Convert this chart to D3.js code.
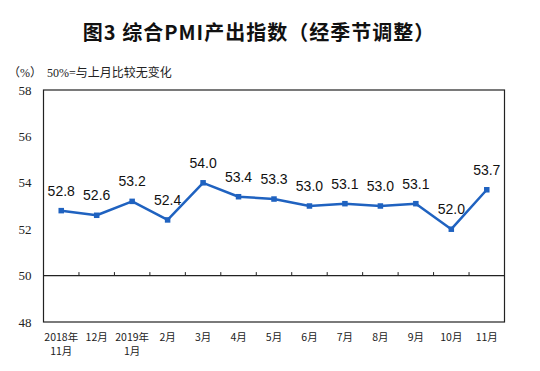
<!DOCTYPE html>
<head>
  <meta charset="utf-8">
  <title>综合PMI产出指数</title>
</head>
<style>
  body {
    margin: 0;
    background: #fff;
    overflow: hidden;
  }
  .title {
    font-family: "Noto Sans CJK SC", sans-serif;
    font-weight: bold;
    font-size: 20px;
    letter-spacing: 1px;
    fill: #111;
  }
  .note {
    font-family: "Liberation Serif", "Noto Sans CJK SC", serif;
    font-size: 12px;
    fill: #222;
  }
  .ylab {
    font-family: "Liberation Serif", serif;
    font-size: 13px;
    fill: #222;
  }
  .xlab {
    font-family: "Noto Sans CJK SC", sans-serif;
    font-size: 10.5px;
    fill: #222;
  }
  .val {
    font-family: "Liberation Sans", Arial, sans-serif;
    font-size: 14px;
    fill: #111;
  }
</style>
<body>
  <svg id="chart" width="540" height="371"></svg>
<script src="https://cdn.jsdelivr.net/npm/d3@7"></script>
<script>
  // data
  var months = ["2018年|11月", "12月", "2019年|1月", "2月", "3月", "4月", "5月",
                "6月", "7月", "8月", "9月", "10月", "11月"];
  var pmi = [52.8, 52.6, 53.2, 52.4, 54.0, 53.4, 53.3, 53.0, 53.1, 53.0, 53.1, 52.0, 53.7];
  var yTicks = [48, 50, 52, 54, 56, 58];

  var svg = d3.select('#chart');
  // plot box (note: "top" is a reserved window prop, so use other names)
  var plotL = 43.5, plotR = 504.5, plotT = 90, plotB = 322;

  var x = d3.scaleBand().domain(d3.range(months.length)).range([plotL, plotR]);
  var y = d3.scaleLinear().domain([48, 58]).range([plotB, plotT]);
  var blue = '#1f62c0';
  var cx = i => x(i) + x.bandwidth() / 2;

  svg.append('text')
    .attr('class', 'title')
    .attr('x', 259).attr('y', 40)
    .attr('text-anchor', 'middle')
    .text('图3 综合PMI产出指数（经季节调整）');

  svg.append('text').attr('class', 'note')
    .attr('x', 8).attr('y', 77).text('（%）');
  svg.append('text').attr('class', 'note')
    .attr('x', 47).attr('y', 77).text('50%=与上月比较无变化');

  // frame
  svg.append('rect')
    .attr('x', plotL).attr('y', plotT)
    .attr('width', plotR - plotL).attr('height', plotB - plotT)
    .attr('fill', 'none').attr('stroke', '#222').attr('stroke-width', 1.2);

  // y labels (no tick marks)
  svg.selectAll('.ylab')
    .data(yTicks)
    .enter().append('text')
      .attr('class', 'ylab')
      .attr('x', 25)
      .attr('y', d => y(d) + 4.5)
      .attr('text-anchor', 'middle')
      .text(d => d);

  // 50 line with category ticks pointing up
  svg.append('line')
    .attr('x1', plotL).attr('x2', plotR)
    .attr('y1', y(50)).attr('y2', y(50))
    .attr('stroke', '#222').attr('stroke-width', 1.2);
  svg.selectAll('.sep')
    .data(d3.range(1, months.length))
    .enter().append('line')
      .attr('x1', d => x(d)).attr('x2', d => x(d))
      .attr('y1', y(50)).attr('y2', y(50) - 3.5)
      .attr('stroke', '#222').attr('stroke-width', 1);

  // x labels
  var xl = svg.selectAll('.xlab')
    .data(months)
    .enter().append('text')
      .attr('class', 'xlab')
      .attr('text-anchor', 'middle')
      .attr('transform', (d, i) => 'translate(' + cx(i) + ',341)');
  xl.selectAll('tspan')
    .data(d => d.split('|'))
    .enter().append('tspan')
      .attr('x', 0)
      .attr('dy', (d, i) => i ? 14 : 0)
      .text(d => d);

  // line
  var line = d3.line()
    .x((d, i) => cx(i))
    .y(d => y(d));
  svg.append('path')
    .datum(pmi)
    .attr('d', line)
    .attr('fill', 'none')
    .attr('stroke', blue)
    .attr('stroke-width', 2.5)
    .attr('stroke-linejoin', 'round');

  svg.selectAll('.pt')
    .data(pmi)
    .enter().append('rect')
      .attr('x', (d, i) => cx(i) - 2.75)
      .attr('y', d => y(d) - 2.75)
      .attr('width', 5.5).attr('height', 5.5)
      .attr('fill', blue);

  svg.selectAll('.val')
    .data(pmi)
    .enter().append('text')
      .attr('class', 'val')
      .attr('x', (d, i) => cx(i))
      .attr('y', d => y(d) - 15)
      .attr('text-anchor', 'middle')
      .text(d => d.toFixed(1));
</script>
</body>
